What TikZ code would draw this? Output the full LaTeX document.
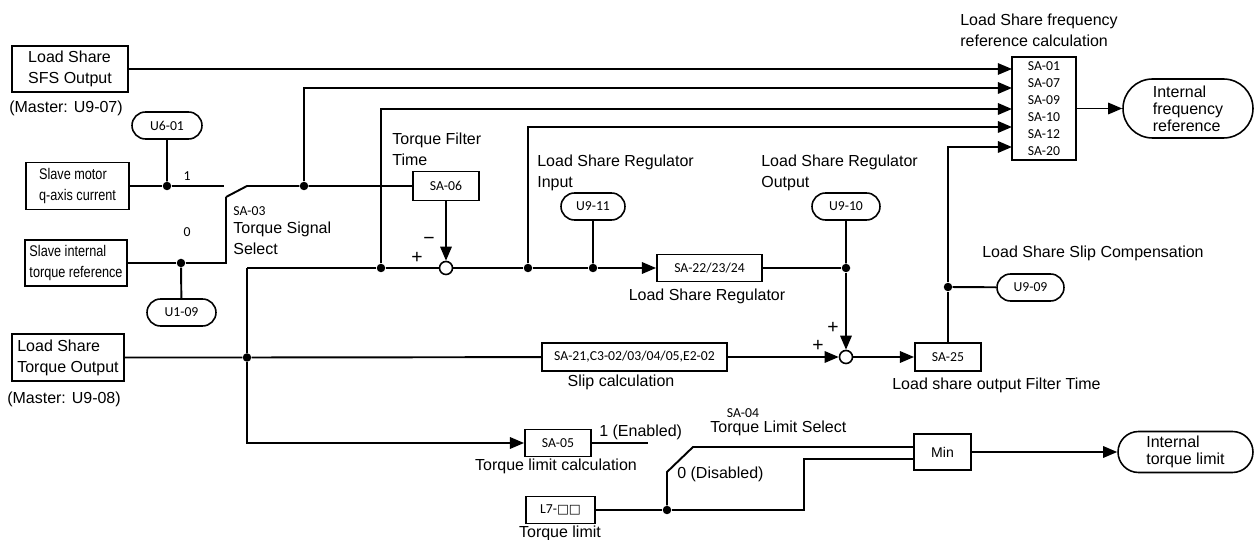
\documentclass[tikz,border=0pt]{standalone}
\usepackage{fontspec}
\setmainfont{Liberation Sans}
\newfontfamily\calfont{Carlito}
\newfontfamily\narrowfont{Liberation Sans}[FakeStretch=0.82]
\newfontfamily\djvfont{DejaVu Sans}
\usetikzlibrary{shapes.misc,arrows.meta}
\begin{document}
\tikzset{
  box/.style={draw, line width=1.1pt, inner sep=0pt, align=center},
  pill/.style={draw, rounded rectangle, line width=0.9pt, inner sep=0pt, font=\calfont\fontsize{7.8}{9}\selectfont},
  sm/.style={font=\calfont\fontsize{7.8}{9.64}\selectfont},
  nar/.style={font=\narrowfont\fontsize{8.8}{12}\selectfont},
  sign/.style={inner sep=0pt, font=\fontsize{11}{12}\selectfont},
  ln/.style={line width=1.1pt},
  thin/.style={line width=0.8pt},
  arr/.style={line width=1.1pt, -{Triangle[length=8pt,width=6.5pt]}},
  jdot/.style={circle, fill, inner sep=0pt, minimum size=0.17cm},
  sumc/.style={circle, draw, line width=0.9pt, inner sep=0pt, minimum size=0.26cm, fill=white},
  lbl/.style={inner sep=0pt},
}
\begin{tikzpicture}[x=0.02cm,y=-0.02cm, font=\fontsize{9.1}{12}\selectfont]
\useasboundingbox (0,0) rectangle (1255,540);

% ---------- left inputs ----------
\node[box, align=left, minimum width=2.32cm, minimum height=0.92cm] (sfs) at (70,69) {Load Share\\SFS Output};
\node[lbl] (m1) at (66,108) {(Master: U9-07)};
\node[pill, minimum width=1.4cm, minimum height=0.54cm] (u601) at (167,125.5) {U6-01};
\node[box, nar, align=left, minimum width=2.06cm, minimum height=0.94cm] (slavem) at (77.5,186) {Slave motor\\q-axis current};
\node[box, nar, align=left, minimum width=2.04cm, minimum height=0.92cm] (slavei) at (76,263) {Slave internal\\torque reference};
\node[pill, minimum width=1.38cm, minimum height=0.54cm] (u109) at (181.5,312.5) {U1-09};
\node[box, align=left, minimum width=2.24cm, minimum height=0.94cm] (lsto) at (68,357.5) {Load Share\\Torque Output};
\node[lbl] (m2) at (64,399) {(Master: U9-08)};

\node[lbl, sm] (l1) at (187,176) {1};
\node[lbl, sm] (l0) at (187,232) {0};
\node[lbl, sm, anchor=west] (sa03) at (233,211) {SA-03};
\node[lbl, anchor=west, align=left] (tss) at (233,238) {Torque Signal\\Select};

% ---------- junctions and coordinates ----------
\node[jdot] (j1u) at (167,186) {};
\node[jdot] (j1) at (304,186) {};
\node[jdot] (j0) at (181,263) {};
\node[jdot] (j2) at (381,268) {};
\node[jdot] (j3) at (247,357.5) {};
\node[jdot] (j4) at (528,268) {};
\node[jdot] (j5) at (593,268) {};
\node[jdot] (j6) at (846,268) {};
\node[jdot] (j7) at (948,287) {};
\node[jdot] (j8) at (667,510) {};

\coordinate (sw1a) at (224,186);
\coordinate (sw1b) at (247,186);
\coordinate (swb) at (226,197);
\coordinate (sw0c) at (226,263);
\coordinate (tee) at (247,268);
\coordinate (in1) at (1012,69);
\coordinate (in2) at (1012,88);
\coordinate (in3) at (1012,109);
\coordinate (in4) at (1012,127);
\coordinate (in5) at (1012,147);
\coordinate (enab) at (648,443);
\coordinate (swL) at (667,472);
\coordinate (swR) at (693,447);
\coordinate (minhi) at (914,447);
\coordinate (lb1) at (804,510);
\coordinate (lb2) at (804,459);
\coordinate (minlo) at (914,459);

% ---------- torque filter / regulator ----------
\node[lbl, anchor=west, align=left] (tft) at (392,149) {Torque Filter\\Time};
\node[box, sm, minimum width=1.32cm, minimum height=0.58cm] (sa06) at (446,186) {SA-06};
\node[sumc] (sum1) at (446,268) {};
\node[sign] (minus1) at (429,241) {−};
\node[sign] (plus1) at (417,258) {+};

\node[lbl, anchor=west, align=left] (lsri) at (537,172.5) {Load Share Regulator\\Input};
\node[pill, minimum width=1.28cm, minimum height=0.54cm] (u911) at (593,206.5) {U9-11};
\node[box, sm, minimum width=2.1cm, minimum height=0.54cm] (reg) at (709.5,268) {SA-22/23/24};
\node[lbl] (lsr) at (707,296) {Load Share Regulator};
\node[lbl, anchor=west, align=left] (lsro) at (761,173) {Load Share Regulator\\Output};
\node[pill, minimum width=1.36cm, minimum height=0.54cm] (u910) at (846,206.5) {U9-10};

\node[sumc] (sum2) at (846,357) {};
\node[sign] (plus2) at (833,328) {+};
\node[sign] (plus3) at (818,346) {+};
\node[box, sm, minimum width=3.7cm, minimum height=0.56cm] (slip) at (634.5,357) {SA-21,C3-02/03/04/05,E2-02};
\node[lbl] (slipc) at (621,382) {Slip calculation};
\node[box, sm, minimum width=1.32cm, minimum height=0.56cm] (sa25) at (948,357) {SA-25};
\node[lbl, anchor=west] (lsoft) at (892,385) {Load share output Filter Time};
\node[pill, minimum width=1.34cm, minimum height=0.54cm] (u909) at (1030.5,287.5) {U9-09};
\node[lbl, anchor=west] (lssc) at (982,253) {Load Share Slip Compensation};

% ---------- frequency reference calculation ----------
\node[box, sm, minimum width=1.28cm, minimum height=2.06cm] (main) at (1044,108.5) {SA-01\\SA-07\\SA-09\\SA-10\\SA-12\\SA-20};
\node[lbl, anchor=west, align=left] (lsfr) at (960,30) {Load Share frequency\\reference calculation};
\node[draw, rounded rectangle, line width=0.9pt, inner sep=0pt, align=left, font=\fontsize{9.1}{9.6}\selectfont, minimum width=2.6cm, minimum height=1.18cm] (ifr) at (1188,108.5) {Internal\\frequency\\reference};

% ---------- torque limit ----------
\node[box, sm, minimum width=1.32cm, minimum height=0.54cm] (sa05) at (558,443) {SA-05};
\node[lbl, anchor=west] (en) at (599,432) {1 (Enabled)};
\node[lbl] (tlc) at (556,466) {Torque limit calculation};
\node[lbl, sm] (sa04) at (743,413) {SA-04};
\node[lbl, anchor=west] (tls) at (710,428) {Torque Limit Select};
\node[lbl, anchor=west] (dis) at (677,474) {0 (Disabled)};
\node[box, sm, minimum width=1.38cm, minimum height=0.54cm] (l7) at (560.5,510) {L7-{\djvfont\fontsize{7.2}{9}\selectfont □□}};
\node[lbl] (tl) at (560,533) {Torque limit};
\node[box, font=\fontsize{8}{9}\selectfont, minimum width=1.14cm, minimum height=0.72cm] (min) at (942.5,452) {Min};
\node[draw, rounded rectangle, line width=0.9pt, inner sep=0pt, align=left, font=\fontsize{9.1}{9.5}\selectfont, minimum width=2.7cm, minimum height=0.82cm] (itl) at (1185.5,452) {Internal\\torque limit};

% ---------- connectors ----------
\draw[thin, -{Triangle[length=8pt,width=6.5pt]}] (sfs.east) -- (in1);
\draw[ln] (slavem.east) -- (j1u) -- (sw1a);
\draw[ln] (u601) -- (j1u);
\draw[ln] (swb) -- (sw1b) -- (j1) -- (sa06);
\draw[arr] (j1) |- (in2);
\draw[ln] (slavei.east) -- (j0) -- (sw0c) -- (swb);
\draw[ln] (j0) -- (u109);
\draw[ln] (tee) -- (j2) -- (sum1);
\draw[arr] (j2) |- (in3);
\draw[ln] (tee) -- (j3);
\draw[arr] (j3) |- (sa05);
\draw[ln] (lsto.east) -- (j3) -- (slip);
\draw[arr] (sa06) -- (sum1);
\draw[ln] (sum1) -- (j4) -- (j5);
\draw[arr] (j4) |- (in4);
\draw[arr] (j5) -- (reg);
\draw[ln] (u911) -- (j5);
\draw[ln] (reg) -- (j6);
\draw[ln] (u910) -- (j6);
\draw[arr] (j6) -- (sum2);
\draw[arr] (slip) -- (sum2);
\draw[arr] (sum2) -- (sa25);
\draw[ln] (sa25) -- (j7);
\draw[arr] (j7) |- (in5);
\draw[ln] (j7) -- (u909);
\draw[arr] (main) -- (ifr);
\draw[ln] (sa05) -- (enab);
\draw[ln] (l7) -- (j8) -- (lb1) -- (lb2) -- (minlo);
\draw[ln] (j8) -- (swL) -- (swR) -- (minhi);
\draw[arr] (min) -- (itl);
\end{tikzpicture}
\end{document}
